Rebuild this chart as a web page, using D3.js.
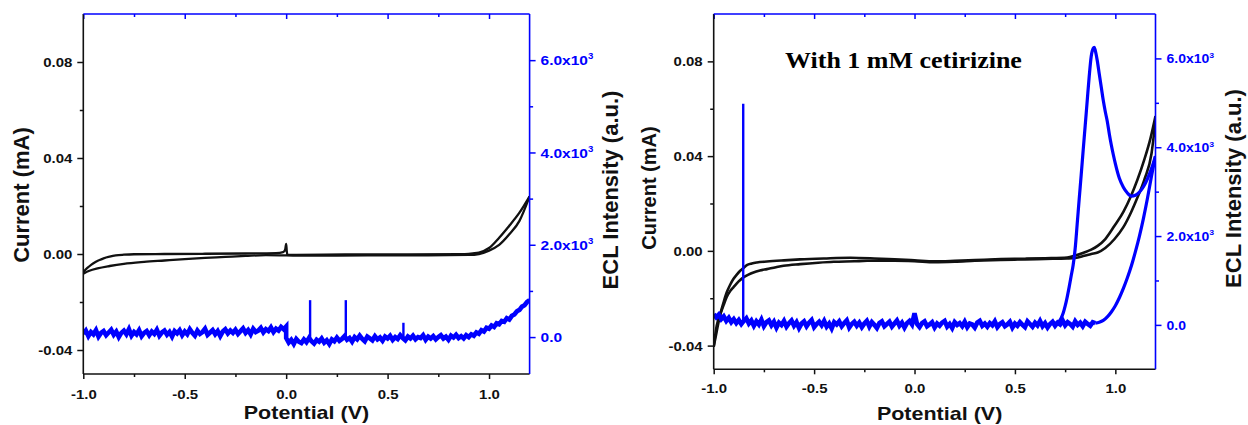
<!DOCTYPE html>
<html><head><meta charset="utf-8">
<script src="https://cdn.jsdelivr.net/npm/d3@7"></script>
<style>body{margin:0;background:#fff;} svg{display:block;}</style>
</head><body>
<svg id="c" width="1248" height="425"></svg>
<script>
// ---------- tick values ----------
const potentialTicks = [-1.0, -0.5, 0.0, 0.5, 1.0];
const potentialMinor = [-0.75, -0.25, 0.25, 0.75];
const currentTicks = [-0.04, 0.00, 0.04, 0.08];
const currentMinor = [-0.02, 0.02, 0.06];
const eclTicks = [0, 2000, 4000, 6000];
const eclMinor = [1000, 3000, 5000];

// ---------- left panel (blank) ----------
// CV current (mA) vs potential (V)
const cvLeftA = [[-1.0,-0.0075],[-0.98,-0.0058],[-0.96,-0.0044],[-0.94,-0.0033],[-0.92,-0.0025],[-0.90,-0.0018],[-0.87,-0.0011],[-0.84,-0.0006],[-0.80,-0.0003],[-0.75,-0.0001],[-0.6,0.0000],[-0.4,0.0001],[-0.2,0.0002],[-0.05,0.0004],[-0.015,0.0008],[-0.005,0.0018],[0.0,0.0042],[0.003,0.0012],[0.006,-0.0004],[0.05,-0.0004],[0.3,-0.0002],[0.6,-0.0002],[0.85,-0.0001],[0.92,0.0003],[0.95,0.0006],[1.0,0.0025],[1.05,0.0068],[1.10,0.0118],[1.15,0.0172],[1.2,0.0240]];
const cvLeftB = [[-1.0,-0.0082],[-0.97,-0.0070],[-0.93,-0.0060],[-0.87,-0.0050],[-0.80,-0.0041],[-0.70,-0.0033],[-0.60,-0.0027],[-0.50,-0.0021],[-0.40,-0.0016],[-0.30,-0.0012],[-0.20,-0.0008],[-0.10,-0.0005],[0.0,-0.0006],[0.1,-0.0007],[0.4,-0.0006],[0.7,-0.0006],[0.9,-0.0004],[0.95,0.0000],[1.0,0.0014],[1.05,0.0038],[1.10,0.0082],[1.15,0.0138],[1.2,0.0240]];
// ECL intensity (a.u.), sampled every 0.0125 V
const eclStep = 0.0125;
const ecl1NegStart = -1.0;
const ecl1Neg = [70,140,20,110,60,150,10,90,130,40,
                 100,160,50,120,0,90,140,60,170,30,
                 110,60,150,20,90,130,40,120,70,160,
                 30,100,140,50,110,10,130,80,150,40,
                 120,60,170,90,30,140,70,110,180,50,
                 100,150,60,130,20,120,170,80,140,90,
                 160,70,130,190,90,150,60,180,110,140,
                 200,100,170,130,210,110,180,140,220,170,
                 230];
const ecl1PosStart = 0.0;
const ecl1Pos = [-20,-120,-60,-150,-40,-100,-130,-50,-110,-20,
                 -90,-140,-60,-100,-30,-120,-70,-150,-50,-90,
                 -10,-80,-40,20,-60,-20,-100,0,-50,30,
                 -40,-90,10,-30,-70,20,-50,-10,-80,10,
                 -30,30,-60,0,-40,40,-20,-70,10,-30,
                 30,-50,0,-20,40,-60,10,-30,20,-50,
                 0,40,-30,10,-60,30,-10,50,-20,20,
                 -30,40,0,60,30,100,70,150,120,200,
                 180,250,220,300,280,350,330,410,380,460,
                 490,560,590,660,690,760,800];
const ecl1SpikeV = [0.118, 0.294, 0.578];
const ecl1SpikeH = [800, 800, 310];
const ecl1SpikeBase = [-40, -40, -30];

// ---------- right panel (with 1 mM cetirizine) ----------
const cvRightA = [[-1.0,-0.0405],[-0.985,-0.0340],[-0.969,-0.0274],[-0.95,-0.0215],[-0.935,-0.0175],[-0.918,-0.0143],[-0.902,-0.0119],[-0.885,-0.0100],[-0.868,-0.0084],[-0.85,-0.0071],[-0.835,-0.0060],[-0.81,-0.0053],[-0.785,-0.0049],[-0.735,-0.0045],[-0.65,-0.0040],[-0.57,-0.0036],[-0.45,-0.0032],[-0.32,-0.0029],[-0.2,-0.0032],[-0.1,-0.0036],[0.0,-0.0040],[0.1,-0.0044],[0.2,-0.0042],[0.3,-0.0039],[0.43,-0.0035],[0.55,-0.0033],[0.65,-0.0031],[0.76,-0.0028],[0.80,-0.0020],[0.845,-0.0007],[0.88,0.0005],[0.912,0.0021],[0.95,0.0050],[0.995,0.0105],[1.04,0.0165],[1.078,0.0232],[1.11,0.0300],[1.145,0.0387],[1.175,0.0475],[1.2,0.0569]];
const cvRightB = [[-1.0,-0.0405],[-0.985,-0.0316],[-0.968,-0.0270],[-0.952,-0.0232],[-0.935,-0.0195],[-0.918,-0.0170],[-0.902,-0.0154],[-0.877,-0.0130],[-0.852,-0.0112],[-0.827,-0.0100],[-0.802,-0.0091],[-0.77,-0.0083],[-0.735,-0.0077],[-0.69,-0.0069],[-0.652,-0.0063],[-0.569,-0.0056],[-0.48,-0.0050],[-0.402,-0.0046],[-0.3,-0.0044],[-0.236,-0.0042],[-0.1,-0.0042],[0.0,-0.0044],[0.1,-0.0048],[0.2,-0.0046],[0.3,-0.0042],[0.43,-0.0038],[0.55,-0.0036],[0.65,-0.0034],[0.76,-0.0032],[0.80,-0.0030],[0.845,-0.0021],[0.88,-0.0013],[0.912,-0.0007],[0.95,0.0012],[0.995,0.0049],[1.04,0.0100],[1.078,0.0162],[1.11,0.0225],[1.145,0.0302],[1.18,0.0410],[1.2,0.0550]];
const ecl2BaseStart = -1.0;
const ecl2Base = [240,170,230,130,190,90,160,60,130,40,
                  110,20,90,150,30,100,-20,80,10,120,
                  -30,60,100,-10,70,-60,50,0,90,-40,
                  40,100,-20,60,-70,30,80,-30,50,110,
                  -50,20,70,-10,90,-40,30,-80,60,10,
                  80,-30,40,100,-60,20,70,-20,50,-50,
                  30,90,-40,60,0,-70,40,80,-30,20,
                  70,-40,30,100,-20,50,-60,40,90,10,
                  260,20,-50,40,80,-30,10,60,-60,30,
                  -20,50,90,-40,20,-70,60,0,40,-30,
                  70,-50,30,10,-60,50,90,-20,30,-40,
                  40,-10,80,-50,20,60,-30,10,70,-60,
                  30,-20,60,0,-50,80,20,-40,50,-10,
                  90,-30,40,-60,20,70,-20,50,10,100,
                  -10,60,20,-40,80,0,50,-30,70,20,
                  -20,60,40];
const ecl2Rise = [[0.9,40],[0.92,60],[0.94,100],[0.96,180],[0.98,290],[1.0,430],[1.02,610],[1.04,820],[1.06,1060],[1.08,1330],[1.1,1650],[1.12,2000],[1.14,2400],[1.16,2850],[1.18,3350],[1.2,3800]];
const ecl2Peak = [[0.70,30],[0.72,80],[0.73,150],[0.74,260],[0.75,420],[0.76,620],[0.77,850],[0.78,1100],[0.79,1350],[0.80,1720],[0.81,2270],[0.82,2830],[0.83,3380],[0.84,3940],[0.85,4490],[0.86,5050],[0.87,5600],[0.88,6050],[0.89,6230],[0.895,6250],[0.90,6180],[0.91,5950],[0.92,5650],[0.93,5350],[0.94,5050],[0.95,4800],[0.96,4580],[0.97,4300],[0.98,4050],[0.99,3830],[1.0,3630],[1.02,3300],[1.04,3100],[1.06,2970],[1.08,2900],[1.10,2920],[1.12,2990],[1.14,3110],[1.16,3290],[1.18,3520],[1.2,3800]];
const ecl2SpikeV = [-0.853];
const ecl2SpikeH = [4980];
const ecl2SpikeBase = [40];

const titleText = "With 1 mM cetirizine";

// ---------- drawing ----------
const BLUE = "#0000ff";
const SANS = "'Liberation Sans', Arial, sans-serif";
const SERIF = "'Liberation Serif', 'Times New Roman', serif";
const SQ = 0.86;
const svg = d3.select("#c");
svg.append("rect").attr("width",1248).attr("height",425).attr("fill","#fff");
const defs = svg.append("defs");

function grid(start, vals){ return vals.map((v,i)=>[start + i*eclStep, v]); }

function panel(cfg){
  const x = d3.scaleLinear().domain([-1,1.2]).range([cfg.left,cfg.right]);
  const yI = d3.scaleLinear().domain([-0.05,0.1]).range([cfg.bottom,cfg.top]);
  const yE = d3.scaleLinear().domain(cfg.eclDomain).range([cfg.bottom,cfg.top]);
  const g = svg.append("g");
  const cid = "clip"+cfg.id;
  defs.append("clipPath").attr("id",cid).append("rect")
    .attr("x",cfg.left).attr("y",cfg.top).attr("width",cfg.right-cfg.left).attr("height",cfg.bottom-cfg.top);
  const plot = g.append("g").attr("clip-path",`url(#${cid})`);

  const lineI = d3.line().x(d=>x(d[0])).y(d=>yI(d[1])).curve(d3.curveMonotoneX);
  const lineE = d3.line().x(d=>x(d[0])).y(d=>yE(d[1])).curve(d3.curveMonotoneX);
  const lineEraw = d3.line().x(d=>x(d[0])).y(d=>yE(d[1]));

  cfg.cv.forEach(c=>{
    plot.append("path").attr("d",lineI(c)).attr("fill","none").attr("stroke","#111")
      .attr("stroke-width",cfg.cvWidth).attr("stroke-linejoin","round");
  });
  cfg.eclNoisy.forEach(c=>{
    plot.append("path").attr("d",lineEraw(c)).attr("fill","none").attr("stroke",BLUE)
      .attr("stroke-width",4.6).attr("stroke-linejoin","miter");
  });
  cfg.eclSmooth.forEach(c=>{
    plot.append("path").attr("d",lineE(c)).attr("fill","none").attr("stroke",BLUE)
      .attr("stroke-width",3.2).attr("stroke-linejoin","round");
  });
  cfg.spikes.V.forEach((v,i)=>{
    plot.append("line").attr("x1",x(v)).attr("x2",x(v))
      .attr("y1",yE(cfg.spikes.B[i])).attr("y2",yE(cfg.spikes.H[i]))
      .attr("stroke",BLUE).attr("stroke-width",2.4);
  });

  // ---- axes ----
  function styleAxis(ax, color, size){
    ax.select(".domain").remove();
    ax.attr("font-family",SANS).attr("font-size",size).attr("font-weight","bold").attr("color",color);
    ax.selectAll(".tick line").attr("stroke-width",1.5);
  }
  const bx = g.append("g").attr("transform",`translate(0,${cfg.bottom})`)
    .call(d3.axisBottom(x).tickValues(potentialTicks).tickSize(5).tickSizeOuter(0).tickFormat(d=>d.toFixed(1)));
  styleAxis(bx,"#111",cfg.tickFont);
  bx.selectAll(".tick text").attr("y",null).attr("dy",null)
    .attr("transform",`translate(0,${cfg.xLabOff}) scale(1,${SQ})`);
  const bxm = g.append("g").attr("transform",`translate(0,${cfg.bottom})`)
    .call(d3.axisBottom(x).tickValues(potentialMinor).tickSize(3).tickSizeOuter(0).tickFormat(""));
  styleAxis(bxm,"#111",10);
  const tx = g.append("g").attr("transform",`translate(0,${cfg.top})`)
    .call(d3.axisTop(x).tickValues(potentialTicks).tickSize(-5).tickSizeOuter(0).tickFormat(""));
  styleAxis(tx,BLUE,10);
  const txm = g.append("g").attr("transform",`translate(0,${cfg.top})`)
    .call(d3.axisTop(x).tickValues(potentialMinor).tickSize(-3).tickSizeOuter(0).tickFormat(""));
  styleAxis(txm,BLUE,10);
  const ly = g.append("g").attr("transform",`translate(${cfg.left},0)`)
    .call(d3.axisLeft(yI).tickValues(currentTicks).tickSize(6).tickSizeOuter(0).tickFormat(d=>d.toFixed(2)));
  styleAxis(ly,"#111",cfg.tickFont);
  ly.selectAll(".tick text").attr("x",null).attr("dy",null)
    .attr("transform",`translate(-11,${cfg.tickFont*0.716*SQ/2}) scale(1,${SQ})`);
  const lym = g.append("g").attr("transform",`translate(${cfg.left},0)`)
    .call(d3.axisLeft(yI).tickValues(currentMinor).tickSize(3.5).tickSizeOuter(0).tickFormat(""));
  styleAxis(lym,"#111",10);
  const ry = g.append("g").attr("transform",`translate(${cfg.right},0)`)
    .call(d3.axisRight(yE).tickValues(eclTicks).tickSize(6).tickSizeOuter(0).tickFormat(d=>d));
  styleAxis(ry,BLUE,cfg.eclFont);
  ry.selectAll(".tick text").attr("x",null).attr("dy",null)
    .attr("transform",`translate(11,${cfg.eclFont*0.716*SQ/2}) scale(1,${SQ})`)
    .each(function(d){
      const t = d3.select(this); t.text(null);
      if(d===0){ t.text("0.0"); }
      else {
        t.append("tspan").text((d/1000).toFixed(1)+"x10");
        t.append("tspan").attr("dy",-cfg.eclFont*0.45).attr("font-size",cfg.eclFont*0.62).text("3");
      }
    });
  const rym = g.append("g").attr("transform",`translate(${cfg.right},0)`)
    .call(d3.axisRight(yE).tickValues(eclMinor).tickSize(3.5).tickSizeOuter(0).tickFormat(""));
  styleAxis(rym,BLUE,10);

  g.append("line").attr("x1",cfg.left).attr("x2",cfg.right).attr("y1",cfg.bottom).attr("y2",cfg.bottom).attr("stroke","#111").attr("stroke-width",1.6);
  g.append("line").attr("x1",cfg.left).attr("x2",cfg.left).attr("y1",cfg.top).attr("y2",cfg.bottom).attr("stroke","#111").attr("stroke-width",1.6);
  g.append("line").attr("x1",cfg.left).attr("x2",cfg.right).attr("y1",cfg.top).attr("y2",cfg.top).attr("stroke",BLUE).attr("stroke-width",1.6);
  g.append("line").attr("x1",cfg.right).attr("x2",cfg.right).attr("y1",cfg.top).attr("y2",cfg.bottom).attr("stroke",BLUE).attr("stroke-width",1.6);

  g.append("text").attr("transform",`translate(${(cfg.left+cfg.right)/2+cfg.xTitleDx},${cfg.xTitleY}) scale(1,${SQ})`)
    .attr("text-anchor","middle").attr("font-family",SANS).attr("font-weight","bold")
    .attr("font-size",21.5).attr("fill","#111").text("Potential (V)");
  g.append("text").attr("transform",`translate(${cfg.curX},${cfg.curY}) rotate(-90)`)
    .attr("text-anchor","middle").attr("font-family",SANS).attr("font-weight","bold")
    .attr("font-size",cfg.curFont).attr("fill","#111").text("Current (mA)");
  g.append("text").attr("transform",`translate(${cfg.eclX},${cfg.eclY}) rotate(-90)`)
    .attr("text-anchor","middle").attr("font-family",SANS).attr("font-weight","bold")
    .attr("font-size",22).attr("fill","#111").text("ECL Intensity (a.u.)");
  return {x,yI,yE,g};
}

panel({
  id:1, left:83.3, right:529.6, top:14, bottom:374, eclDomain:[-800,7000],
  cv:[cvLeftA, cvLeftB], cvWidth:2.3,
  eclNoisy:[grid(ecl1NegStart,ecl1Neg).concat(grid(ecl1PosStart,ecl1Pos))],
  eclSmooth:[],
  spikes:{V:ecl1SpikeV,H:ecl1SpikeH,B:ecl1SpikeBase},
  tickFont:15, eclFont:15.5, xLabOff:25, xTitleDx:0, xTitleY:419,
  curX:29, curY:195, curFont:22, eclX:617.5, eclY:190
});
panel({
  id:2, left:713.7, right:1155.5, top:14, bottom:369.3, eclDomain:[-1000,7000],
  cv:[cvRightA, cvRightB], cvWidth:2.6,
  eclNoisy:[grid(ecl2BaseStart,ecl2Base)],
  eclSmooth:[ecl2Rise, ecl2Peak],
  spikes:{V:ecl2SpikeV,H:ecl2SpikeH,B:ecl2SpikeBase},
  tickFont:15, eclFont:14, xLabOff:24, xTitleDx:5, xTitleY:420,
  curX:656, curY:188, curFont:20, eclX:1241, eclY:188.5
});

svg.append("text").attr("transform",`translate(785,68) scale(1,0.88)`)
  .attr("font-family",SERIF).attr("font-weight","bold").attr("font-size",26)
  .attr("fill","#000").text(titleText);
</script>
</body></html>
